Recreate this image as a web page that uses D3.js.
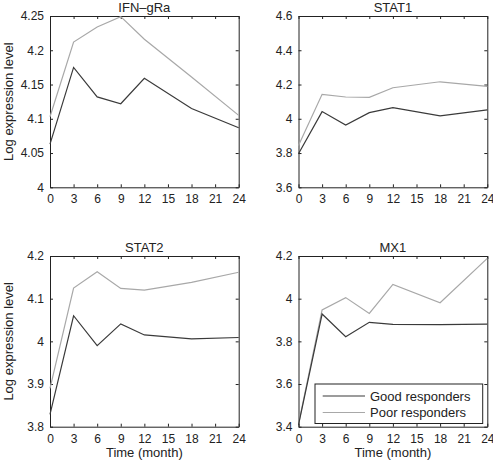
<!DOCTYPE html>
<html><head><meta charset="utf-8">
<script src="https://cdn.jsdelivr.net/npm/d3@7"></script>
<style>
body{margin:0;background:#fff;}
text{font-family:"Liberation Sans",Arial,Helvetica,sans-serif;fill:#222;}
</style></head><body>
<svg id="c" width="493" height="464"></svg>
<script>
const months = [0, 3, 6, 9, 12, 18, 24];
const xTicks = [0, 3, 6, 9, 12, 15, 18, 21, 24];
const genes = ["IFN\u2013gRa", "STAT1", "STAT2", "MX1"];
const goodIFN = [4.063, 4.175, 4.132, 4.122, 4.159, 4.115, 4.087];
const poorIFN = [4.103, 4.212, 4.234, 4.249, 4.216, 4.161, 4.105];
const goodSTAT1 = [3.796, 4.042, 3.964, 4.036, 4.065, 4.017, 4.052];
const poorSTAT1 = [3.844, 4.143, 4.127, 4.125, 4.181, 4.216, 4.189];
const goodSTAT2 = [3.829, 4.060, 3.990, 4.041, 4.015, 4.006, 4.009];
const poorSTAT2 = [3.890, 4.125, 4.163, 4.124, 4.120, 4.138, 4.162];
const goodMX1 = [3.408, 3.928, 3.822, 3.889, 3.880, 3.878, 3.881];
const poorMX1 = [3.412, 3.947, 4.005, 3.931, 4.067, 3.981, 4.189];
const yTicksIFN = [4, 4.05, 4.1, 4.15, 4.2, 4.25];
const yTicksSTAT1 = [3.6, 3.8, 4, 4.2, 4.4, 4.6];
const yTicksSTAT2 = [3.8, 3.9, 4, 4.1, 4.2];
const yTicksMX1 = [3.4, 3.6, 3.8, 4, 4.2];
const seriesNames = ["Good responders", "Poor responders"];
const colors = ["#3a3a3a", "#a8a8a8"];

const panels = [
  {title: genes[0], good: goodIFN, poor: poorIFN, yt: yTicksIFN, x0: 50, x1: 238.7, y0: 16, y1: 187.3, ylab: true, xlab: false},
  {title: genes[1], good: goodSTAT1, poor: poorSTAT1, yt: yTicksSTAT1, x0: 298.5, x1: 487.3, y0: 16, y1: 187.3, ylab: false, xlab: false},
  {title: genes[2], good: goodSTAT2, poor: poorSTAT2, yt: yTicksSTAT2, x0: 50, x1: 238.7, y0: 256, y1: 426.7, ylab: true, xlab: true},
  {title: genes[3], good: goodMX1, poor: poorMX1, yt: yTicksMX1, x0: 298.5, x1: 487.3, y0: 256, y1: 426.7, ylab: false, xlab: true, legend: true}
];

const svg = d3.select("#c");
const fmt = d => String(+d.toFixed(2));

panels.forEach(p => {
  const x = d3.scaleLinear().domain([0, 24]).range([p.x0, p.x1]);
  const y = d3.scaleLinear().domain([p.yt[0], p.yt[p.yt.length - 1]]).range([p.y1, p.y0]);
  const g = svg.append("g");
  const tl = 3;
  const ax = g.append("g").attr("transform", `translate(0,${p.y1})`)
    .call(d3.axisBottom(x).tickValues(xTicks).tickSizeInner(-tl).tickSizeOuter(0).tickPadding(7).tickFormat(d => d));
  const axT = g.append("g").attr("transform", `translate(0,${p.y0})`)
    .call(d3.axisTop(x).tickValues(xTicks).tickSizeInner(-tl).tickSizeOuter(0).tickFormat(""));
  const ay = g.append("g").attr("transform", `translate(${p.x0},0)`)
    .call(d3.axisLeft(y).tickValues(p.yt).tickSizeInner(-tl).tickSizeOuter(0).tickPadding(6).tickFormat(fmt));
  const ayR = g.append("g").attr("transform", `translate(${p.x1},0)`)
    .call(d3.axisRight(y).tickValues(p.yt).tickSizeInner(-tl).tickSizeOuter(0).tickFormat(""));
  [ax, axT, ay, ayR].forEach(a => {
    a.select(".domain").attr("stroke", "#222").attr("stroke-width", 1);
    a.selectAll(".tick line").attr("stroke", "#222");
    a.selectAll("text").attr("font-size", 12).attr("font-family", "Liberation Sans, Arial, sans-serif").attr("fill", "#222");
  });
  ax.selectAll(".tick text").attr("dy", "0.75em");
  const line = d3.line().x((d, i) => x(months[i])).y(d => y(d));
  g.append("path").datum(p.poor).attr("d", line).attr("fill", "none").attr("stroke", colors[1]).attr("stroke-width", 1.2);
  g.append("path").datum(p.good).attr("d", line).attr("fill", "none").attr("stroke", colors[0]).attr("stroke-width", 1.2);
  g.append("text").attr("x", (p.x0 + p.x1) / 2).attr("y", p.y0 - 4).attr("text-anchor", "middle").attr("font-size", 13).text(p.title);
  if (p.ylab) {
    g.append("text").attr("transform", `translate(13,${(p.y0 + p.y1) / 2}) rotate(-90)`).attr("text-anchor", "middle").attr("font-size", 13).text("Log expression level");
  }
  if (p.xlab) {
    g.append("text").attr("x", (p.x0 + p.x1) / 2).attr("y", 457).attr("text-anchor", "middle").attr("font-size", 13).text("Time (month)");
  }
  if (p.legend) {
    const lg = g.append("g");
    lg.append("rect").attr("x", 315).attr("y", 384).attr("width", 167.7).attr("height", 39.5).attr("fill", "#fff").attr("stroke", "#222").attr("stroke-width", 1);
    seriesNames.forEach((n, i) => {
      const yy = 396 + i * 16.5;
      lg.append("line").attr("x1", 322.7).attr("x2", 365).attr("y1", yy).attr("y2", yy).attr("stroke", colors[i]).attr("stroke-width", 1.2);
      lg.append("text").attr("x", 370).attr("y", yy + 4.5).attr("font-size", 13).text(n);
    });
  }
});
</script>
</body></html>
